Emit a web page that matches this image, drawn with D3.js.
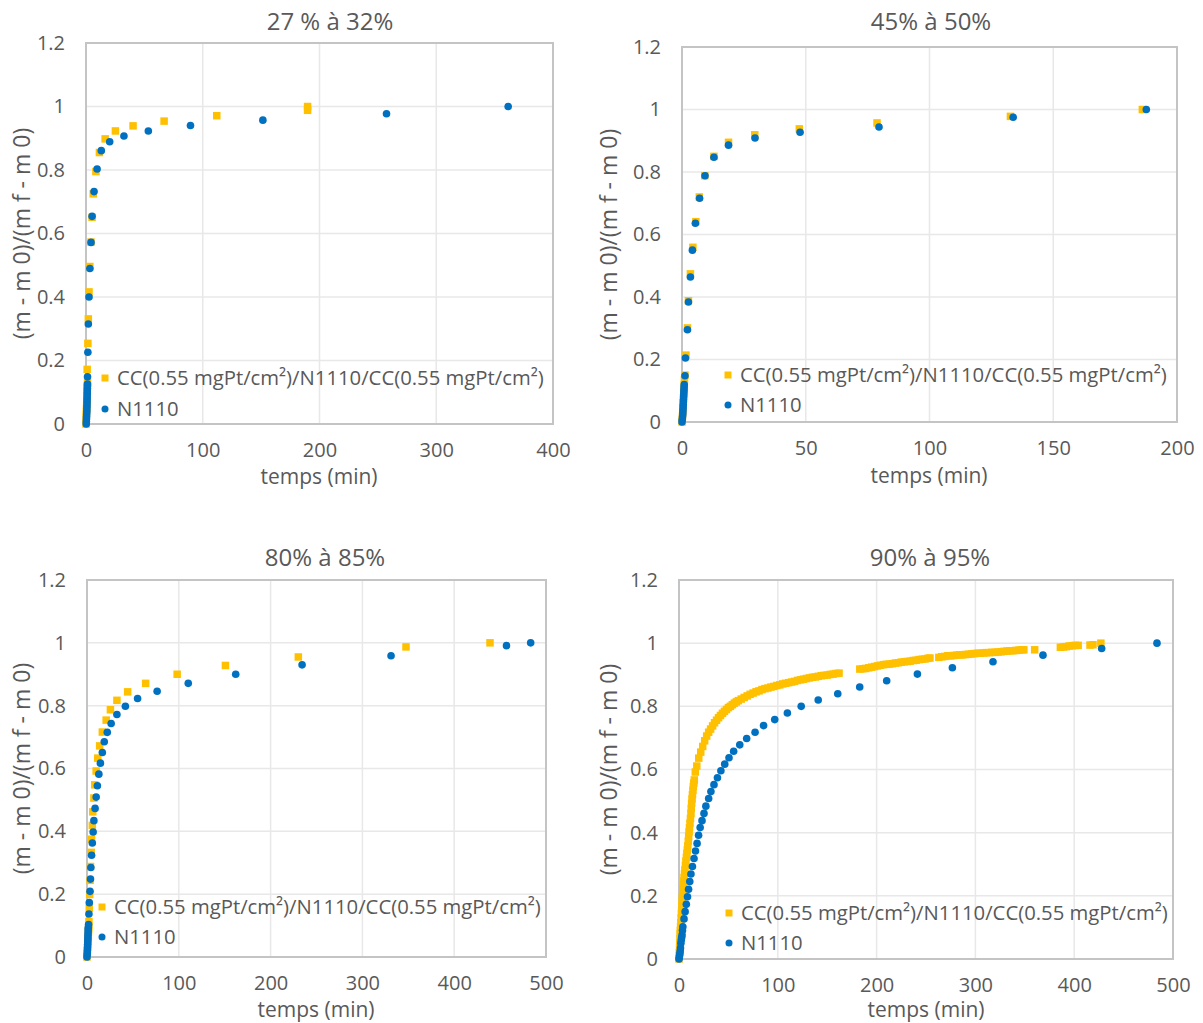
<!DOCTYPE html>
<html>
<head>
<meta charset="utf-8">
<script src="https://cdn.jsdelivr.net/npm/d3@7"></script>
<style>
  html, body { margin: 0; padding: 0; background: #ffffff; }
  svg { display: block; }
  text { font-family: "Open Sans", "Liberation Sans", sans-serif; fill: #595959; }
</style>
</head>
<body>
<svg id="chart" width="1203" height="1023"></svg>
<script>
// ---------------- DATA ----------------
const panelTitles = ["27 % à 32%", "45% à 50%", "80% à 85%", "90% à 95%"];
const seriesNames = ["CC(0.55 mgPt/cm²)/N1110/CC(0.55 mgPt/cm²)", "N1110"];
const yTicks = [0, 0.2, 0.4, 0.6, 0.8, 1, 1.2];
const xTicksP1 = [0, 100, 200, 300, 400];
const xTicksP2 = [0, 50, 100, 150, 200];
const xTicksP3 = [0, 100, 200, 300, 400, 500];
const xTicksP4 = [0, 100, 200, 300, 400, 500];
const xAxisTitle = "temps (min)";
const yAxisTitle = "(m - m 0)/(m f - m 0)";

// Panel 1 : 27 % à 32%  [temps (min), ratio]
const p1CC = [
  [0,0],[0.1,0.01],[0.2,0.02],[0.3,0.03],[0.4,0.04],[0.5,0.05],[0.6,0.06],[0.7,0.07],[0.8,0.08],
  [0.9,0.09],[1.0,0.10],[1.1,0.11],[1.2,0.12],[1.3,0.13],[1.0,0.172],[1.6,0.254],[2.0,0.331],
  [2.6,0.416],[3.3,0.496],[4.3,0.573],[5.2,0.651],[6.2,0.725],[8.5,0.795],[11.5,0.855],
  [16.4,0.898],[25.2,0.923],[40.3,0.939],[66.9,0.954],[112,0.971],[189.8,0.988],[189.8,1.0]
];
const p1N = [
  [0.2,0],[0.3,0.008],[0.4,0.016],[0.5,0.024],[0.6,0.032],[0.7,0.040],[0.75,0.048],[0.8,0.056],
  [0.85,0.064],[0.9,0.072],[0.95,0.080],[1.0,0.088],[1.05,0.096],[1.1,0.104],[1.15,0.112],
  [1.2,0.120],[1.25,0.126],[1.3,0.149],[1.6,0.226],[2.0,0.315],[2.6,0.400],[3.3,0.490],[4.3,0.572],
  [5.2,0.654],[6.9,0.732],[9.5,0.803],[13.1,0.861],[20.3,0.889],[32.5,0.907],[53.4,0.923],
  [89.5,0.940],[151.5,0.957],[257.4,0.977],[361.6,1.0]
];

// Panel 2 : 45% à 50%
const p2CC = [
  [0,0],[0.1,0.01],[0.2,0.02],[0.3,0.03],[0.4,0.045],[0.5,0.06],[0.6,0.075],[0.7,0.09],
  [0.8,0.105],[0.9,0.12],[1.0,0.135],[1.2,0.15],[1.6,0.214],[2.2,0.301],[2.6,0.388],[3.4,0.474],
  [4.4,0.559],[5.6,0.641],[7.0,0.720],[9.2,0.788],[12.9,0.850],[18.8,0.895],[29.4,0.919],
  [47.4,0.938],[78.8,0.957],[132.7,0.978],[186,1.0]
];
const p2N = [
  [0,0],[0.1,0.008],[0.2,0.016],[0.3,0.024],[0.35,0.032],[0.4,0.040],[0.45,0.048],[0.5,0.056],
  [0.55,0.064],[0.6,0.072],[0.65,0.080],[0.7,0.088],[0.75,0.096],[0.8,0.104],[0.85,0.112],
  [0.9,0.120],[1.2,0.148],[1.4,0.205],[2.2,0.295],[2.6,0.384],[3.4,0.464],[4.2,0.550],[5.4,0.636],
  [7.1,0.716],[9.3,0.788],[12.9,0.847],[18.8,0.886],[29.5,0.909],[47.7,0.927],[79.6,0.944],
  [133.8,0.975],[187.6,1.0]
];

// Panel 3 : 80% à 85%
const p3CC = [
  [0,0],[0.2,0.01],[0.4,0.02],[0.6,0.03],[0.8,0.04],[1.0,0.05],[1.2,0.06],[1.4,0.07],[1.6,0.08],
  [1.8,0.09],[1.9,0.10],[2.1,0.113],[2.5,0.155],[2.9,0.199],[3.3,0.244],[3.8,0.288],[4.6,0.333],
  [5.0,0.375],[5.8,0.419],[6.3,0.462],[7.5,0.506],[8.4,0.548],[10.0,0.592],[11.7,0.633],
  [13.8,0.672],[16.7,0.716],[20.9,0.754],[25.5,0.787],[32.6,0.817],[44.3,0.844],[63.9,0.871],
  [98.2,0.900],[150.8,0.928],[230.2,0.955],[347.5,0.987],[439,1.0]
];
const p3N = [
  [0,0],[0.2,0.008],[0.35,0.016],[0.5,0.024],[0.6,0.032],[0.7,0.040],[0.8,0.048],[0.9,0.056],
  [1.0,0.064],[1.1,0.072],[1.2,0.080],[1.3,0.088],[1.4,0.094],[1.7,0.103],[2.1,0.137],[2.5,0.173],
  [3.3,0.209],[3.8,0.248],[4.2,0.285],[5.0,0.324],[5.8,0.363],[6.7,0.398],[7.5,0.434],[8.8,0.473],
  [10.0,0.509],[11.3,0.545],[12.9,0.582],[14.6,0.617],[16.7,0.651],[18.8,0.685],[22.1,0.715],
  [26.3,0.743],[32.6,0.772],[41.8,0.798],[55.1,0.823],[76.4,0.846],[110.3,0.871],[162,0.900],
  [234.3,0.930],[331.2,0.959],[457,0.991],[483.3,1.0]
];

// Panel 4 : 90% à 95%
const p4CC = [
  [0,0],[0.2,0.01],[0.4,0.02],[0.6,0.035],[0.8,0.05],[1.0,0.065],[1.2,0.08],[1.4,0.09],[1.6,0.102],
  [1.9,0.115],[2.2,0.13],[2.5,0.145],[2.7,0.155],[3.0,0.17],[3.2,0.183],[3.4,0.197],[3.7,0.205],
  [4.0,0.215],[4.3,0.226],[4.6,0.236],[4.9,0.247],[5.2,0.258],[5.6,0.270],[6.0,0.282],[6.5,0.296],
  [7.0,0.31],[7.5,0.322],[8.0,0.334],[8.4,0.345],[8.9,0.358],[9.4,0.373],[9.8,0.388],[10.2,0.402],
  [10.6,0.415],[11.1,0.430],[11.6,0.445],[12.1,0.461],[12.4,0.477],[12.8,0.493],[13.2,0.507],
  [13.6,0.52],[14.1,0.534],[14.5,0.546],[15.0,0.557],[15.5,0.567],[16.5,0.592],[18,0.611],
  [20,0.636],[22,0.655],[24,0.673],[26,0.691],[28,0.706],[30,0.718],[32,0.728],[34,0.738],
  [36,0.748],[38,0.756],[40,0.764],[42,0.771],[44,0.778],[46,0.784],[48,0.790],[50,0.796],
  [52,0.800],[54,0.805],[56,0.810],[58,0.814],[60,0.818],[63,0.823],[66,0.828],[69,0.833],
  [72,0.838],[75,0.842],[78,0.846],[81,0.849],[84,0.853],[87,0.856],[90,0.858],[93,0.861],
  [96,0.863],[99,0.866],[102,0.868],[105,0.871],[108,0.873],[111,0.875],[114,0.877],[117,0.879],
  [120,0.882],[123,0.884],[126,0.886],[129,0.888],[132,0.890],[135,0.892],[138,0.893],[141,0.895],
  [144,0.897],[147,0.898],[150,0.899],[153,0.901],[156,0.902],[159,0.904],[162,0.905],
  [183,0.918],[186,0.919],[189,0.920],[192,0.922],[195,0.924],[198,0.926],[201,0.928],[204,0.930],
  [207,0.932],[210,0.933],[213,0.934],[216,0.935],[219,0.937],[222,0.938],[225,0.940],[228,0.941],
  [231,0.942],[234,0.943],[237,0.945],[240,0.946],[243,0.948],[246,0.949],[249,0.950],[252,0.952],
  [254,0.953],[263,0.955],[266,0.957],[269,0.958],[272,0.960],[275,0.960],[278,0.961],[281,0.962],
  [284,0.963],[287,0.963],[290,0.964],[293,0.965],[296,0.966],[299,0.967],[302,0.968],[305,0.968],
  [308,0.969],[311,0.970],[314,0.970],[317,0.971],[320,0.971],[323,0.972],[326,0.973],[329,0.974],
  [332,0.975],[335,0.976],[338,0.976],[341,0.977],[344,0.978],[347,0.979],[349,0.979],[360,0.979],
  [386,0.987],[389,0.988],[392,0.989],[395,0.991],[398,0.992],[401,0.993],[404,0.993],[416,0.994],
  [419,0.995],[427,1.0]
];
const p4N = [
  [0,0],[0.3,0.005],[0.6,0.012],[0.9,0.018],[1.2,0.025],[1.5,0.035],[1.9,0.05],[2.3,0.06],
  [2.7,0.068],[3.1,0.076],[3.5,0.09],[3.9,0.102],[5.1,0.127],[6.2,0.150],[7.4,0.173],[8.6,0.197],
  [9.7,0.221],[10.9,0.245],[12.1,0.269],[13.6,0.293],[15.2,0.318],[16.7,0.342],[18.3,0.366],
  [19.8,0.392],[21.4,0.416],[23.3,0.438],[25.3,0.461],[27.2,0.484],[30,0.508],[32.3,0.530],
  [35.4,0.552],[38.9,0.574],[42.4,0.596],[46.3,0.617],[50.6,0.637],[55.3,0.658],[61.5,0.678],
  [68.5,0.698],[77,0.718],[85.6,0.739],[96.9,0.758],[109.7,0.779],[123.7,0.800],[140.9,0.820],
  [160.7,0.840],[182.9,0.861],[210.2,0.881],[241.3,0.902],[276.7,0.922],[317.8,0.941],
  [368.4,0.962],[427.8,0.983],[483.8,1.0]
];

// ---------------- LAYOUT ----------------
const panels = [
  { title: panelTitles[0], xMax: 400, xTicks: xTicksP1, cc: p1CC, n: p1N,
    box: {l: 86, r: 553, t: 43, b: 424}, titleXY: [330, 22], xTitleXY: [319, 478], yTitleX: 22,
    legend: {x: 105, y: 378, gap: 31} },
  { title: panelTitles[1], xMax: 200, xTicks: xTicksP2, cc: p2CC, n: p2N,
    box: {l: 682, r: 1177, t: 47, b: 422}, titleXY: [931, 22], xTitleXY: [929, 477], yTitleX: 609,
    legend: {x: 728, y: 375, gap: 30} },
  { title: panelTitles[2], xMax: 500, xTicks: xTicksP3, cc: p3CC, n: p3N,
    box: {l: 87, r: 546, t: 580, b: 957}, titleXY: [325, 558], xTitleXY: [316, 1011], yTitleX: 22,
    legend: {x: 102, y: 907, gap: 30} },
  { title: panelTitles[3], xMax: 500, xTicks: xTicksP4, cc: p4CC, n: p4N,
    box: {l: 679, r: 1173, t: 580, b: 959}, titleXY: [930, 558], xTitleXY: [926, 1011], yTitleX: 609,
    legend: {x: 729, y: 913, gap: 30} }
];

const YELLOW = "#FFC000", BLUE = "#0070C0";
const svg = d3.select("#chart");

panels.forEach(p => {
  const g = svg.append("g");
  const x = d3.scaleLinear().domain([0, p.xMax]).range([p.box.l, p.box.r]);
  const y = d3.scaleLinear().domain([0, 1.2]).range([p.box.b, p.box.t]);

  // gridlines
  g.append("g").selectAll("line.h").data(yTicks).join("line")
    .attr("x1", p.box.l).attr("x2", p.box.r)
    .attr("y1", d => y(d)).attr("y2", d => y(d))
    .attr("stroke", "#E8E8E8").attr("stroke-width", 1.5);
  g.append("g").selectAll("line.v").data(p.xTicks).join("line")
    .attr("y1", p.box.t).attr("y2", p.box.b)
    .attr("x1", d => x(d)).attr("x2", d => x(d))
    .attr("stroke", "#E8E8E8").attr("stroke-width", 1.5);

  // plot border
  g.append("rect").attr("x", p.box.l).attr("y", p.box.t)
    .attr("width", p.box.r - p.box.l).attr("height", p.box.b - p.box.t)
    .attr("fill", "none").attr("stroke", "#C4C4C4").attr("stroke-width", 2);

  // axes (labels only)
  const xAxis = d3.axisBottom(x).tickValues(p.xTicks).tickSize(0).tickPadding(19).tickFormat(d3.format("d"));
  const gx = g.append("g").attr("transform", `translate(0,${p.box.b})`).call(xAxis);
  gx.select(".domain").remove();
  gx.selectAll("text").attr("font-size", 20).attr("fill", "#595959")
    .attr("font-family", '"Open Sans", sans-serif');

  const yAxis = d3.axisLeft(y).tickValues(yTicks).tickSize(0).tickPadding(21).tickFormat(d => String(d));
  const gy = g.append("g").attr("transform", `translate(${p.box.l},0)`).call(yAxis);
  gy.select(".domain").remove();
  gy.selectAll("text").attr("font-size", 20).attr("fill", "#595959")
    .attr("font-family", '"Open Sans", sans-serif');

  // titles
  g.append("text").attr("x", p.titleXY[0]).attr("y", p.titleXY[1]).attr("dy", "0.35em")
    .attr("text-anchor", "middle").attr("font-size", 24).text(p.title);
  g.append("text").attr("x", p.xTitleXY[0]).attr("y", p.xTitleXY[1]).attr("dy", "0.28em")
    .attr("text-anchor", "middle").attr("font-size", 21).text(xAxisTitle);
  const yc = (p.box.t + p.box.b) / 2;
  g.append("text").attr("transform", `translate(${p.yTitleX},${yc}) rotate(-90)`).attr("dy", "0.35em")
    .attr("text-anchor", "middle").attr("font-size", 23).text(yAxisTitle);

  // points
  const sq = 7.5;
  g.append("g").selectAll("rect").data(p.cc).join("rect")
    .attr("x", d => x(d[0]) - sq / 2).attr("y", d => y(d[1]) - sq / 2)
    .attr("width", sq).attr("height", sq).attr("fill", YELLOW);
  g.append("g").selectAll("circle").data(p.n).join("circle")
    .attr("cx", d => x(d[0])).attr("cy", d => y(d[1])).attr("r", 3.8).attr("fill", BLUE);

  // legend
  const lg = g.append("g");
  lg.append("rect").attr("x", p.legend.x - 3.5).attr("y", p.legend.y - 3.5)
    .attr("width", 7).attr("height", 7).attr("fill", YELLOW);
  lg.append("circle").attr("cx", p.legend.x).attr("cy", p.legend.y + p.legend.gap)
    .attr("r", 3.5).attr("fill", BLUE);
  lg.append("text").attr("x", p.legend.x + 12).attr("y", p.legend.y).attr("dy", "0.35em")
    .attr("font-size", 20.3).text(seriesNames[0]);
  lg.append("text").attr("x", p.legend.x + 12).attr("y", p.legend.y + p.legend.gap).attr("dy", "0.35em")
    .attr("font-size", 20.3).text(seriesNames[1]);
});
</script>
</body>
</html>
